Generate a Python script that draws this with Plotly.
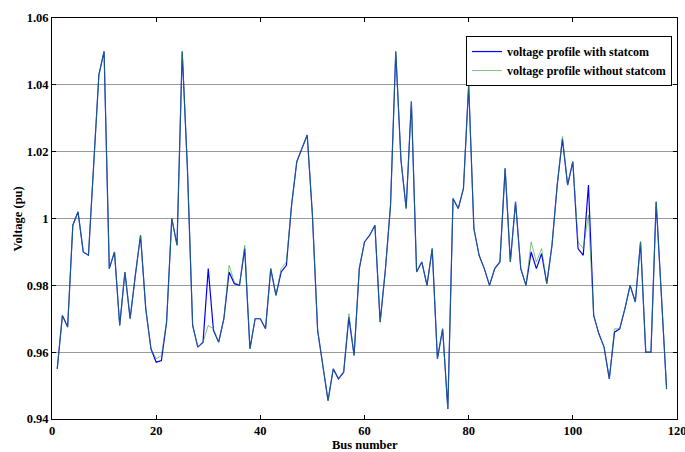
import plotly.graph_objects as go

buses = list(range(1, 119))

v_with = [
    0.955, 0.971, 0.9675, 0.998, 1.002, 0.990, 0.989, 1.015, 1.043, 1.050,
    0.985, 0.990, 0.968, 0.984, 0.970, 0.983, 0.995, 0.973, 0.961, 0.957,
    0.9575, 0.969, 1.000, 0.992, 1.050, 1.015, 0.968, 0.9615, 0.963, 0.985,
    0.9665, 0.963, 0.970, 0.984, 0.9805, 0.980, 0.991, 0.961, 0.970, 0.970,
    0.967, 0.985, 0.977, 0.984, 0.986, 1.004, 1.017, 1.021, 1.025, 1.001,
    0.9665, 0.956, 0.9455, 0.955, 0.952, 0.954, 0.9705, 0.959, 0.985, 0.993,
    0.995, 0.998, 0.969, 0.9845, 1.004, 1.050, 1.0175, 1.003, 1.035, 0.984,
    0.987, 0.980, 0.991, 0.958, 0.967, 0.943, 1.006, 1.003, 1.009, 1.040,
    0.997, 0.989, 0.985, 0.980, 0.985, 0.987, 1.015, 0.987, 1.005, 0.985,
    0.980, 0.990, 0.985, 0.9895, 0.9805, 0.992, 1.010, 1.0238, 1.010, 1.017,
    0.991, 0.989, 1.010, 0.971, 0.9655, 0.9615, 0.952, 0.966, 0.967, 0.973,
    0.980, 0.975, 0.993, 0.960, 0.960, 1.005, 0.975, 0.949,
]

v_without = list(v_with)
without_diff = {
    20: 0.958, 21: 0.959, 30: 0.968, 31: 0.967, 34: 0.986, 35: 0.981,
    37: 0.992, 44: 0.985, 45: 0.987, 57: 0.9715, 92: 0.993, 93: 0.987,
    94: 0.991, 98: 1.0245, 101: 0.993, 102: 0.991, 103: 1.001, 108: 0.967,
}
for b, v in without_diff.items():
    v_without[b - 1] = v

x_ticks = [0, 20, 40, 60, 80, 100, 120]
y_ticks = [0.94, 0.96, 0.98, 1.00, 1.02, 1.04, 1.06]
y_tick_labels = ["0.94", "0.96", "0.98", "1", "1.02", "1.04", "1.06"]

font_family = "Liberation Serif"

fig = go.Figure()
fig.add_trace(go.Scatter(
    x=buses, y=v_with, mode="lines",
    name="<b>voltage profile with statcom</b>",
    line=dict(color="#0000ff", width=1.2),
))
fig.add_trace(go.Scatter(
    x=buses, y=v_without, mode="lines",
    name="<b>voltage profile without statcom</b>",
    line=dict(color="#2e9a2e", width=0.6),
))

fig.update_layout(
    width=685, height=452,
    margin=dict(l=52, r=8, t=18, b=33),
    paper_bgcolor="white", plot_bgcolor="white",
    font=dict(family=font_family, size=12, color="black"),
    showlegend=True,
    legend=dict(
        x=0.992, y=0.955, xanchor="right", yanchor="top",
        bordercolor="black", borderwidth=1, bgcolor="white",
        font=dict(family=font_family, size=12, color="black"),
        tracegroupgap=0, itemwidth=30,
    ),
    xaxis=dict(
        range=[0, 120], tickvals=x_ticks,
        ticktext=[f"<b>{t}</b>" for t in x_ticks],
        showgrid=False, zeroline=False, automargin=False,
        ticklabeloverflow="allow",
        showline=True, linecolor="black", linewidth=1, mirror="ticks",
        ticks="inside", ticklen=4, tickcolor="black",
        tickfont=dict(family=font_family, size=12.5),
    ),
    yaxis=dict(
        range=[0.94, 1.06], tickvals=y_ticks,
        ticktext=[f"<b>{t}</b>" for t in y_tick_labels],
        showgrid=True, gridcolor="#9a9a9a", gridwidth=1, zeroline=False,
        automargin=False, ticklabeloverflow="allow",
        showline=True, linecolor="black", linewidth=1, mirror="ticks",
        ticks="inside", ticklen=4, tickcolor="black",
        tickfont=dict(family=font_family, size=12.5),
    ),
    annotations=[
        dict(text="<b>Bus number</b>", xref="paper", yref="paper",
             x=0.501, y=-0.064, xanchor="center", yanchor="middle",
             showarrow=False, font=dict(family=font_family, size=12.5)),
        dict(text="<b>Voltage (pu)</b>", xref="paper", yref="paper",
             x=-0.0545, y=0.5, xanchor="center", yanchor="middle",
             textangle=-90, showarrow=False,
             font=dict(family=font_family, size=12.5)),
    ],
)

fig.write_html(
    "out.html",
    config={"displayModeBar": False},
    post_script="document.body.style.margin='0';document.body.style.overflow='hidden';",
)
